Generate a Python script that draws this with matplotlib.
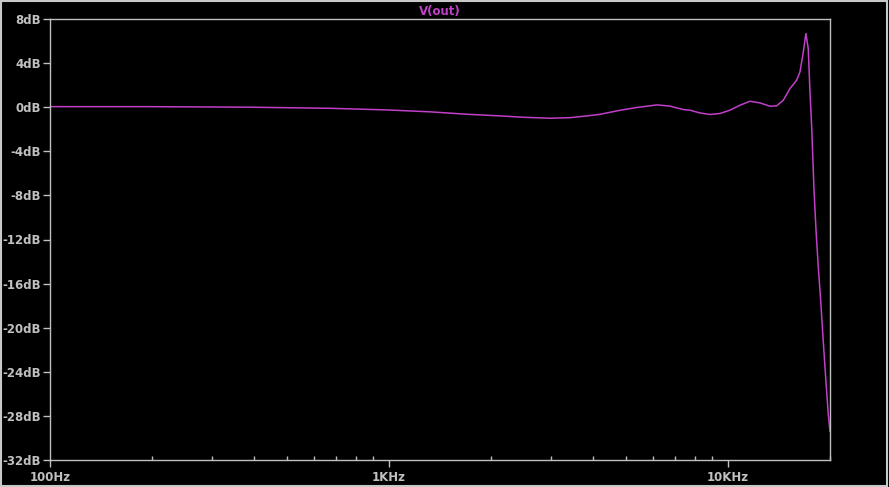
import matplotlib
matplotlib.use("Agg")
import matplotlib.pyplot as plt
from matplotlib.ticker import FixedLocator, LogLocator, NullFormatter
from matplotlib.patches import Rectangle

# frequency response
freq_hz = [100, 197, 389, 670, 993, 1321, 1699, 2125, 2518, 2985, 3420, 3837,
           4190, 4706, 5317, 6176, 6740, 7369, 7726, 8265, 8848, 9471, 10137,
           10850, 11610, 12430, 13300, 13920, 14560, 15240, 15950, 16310,
           16680, 16980, 17250, 17455, 17660, 17940, 18190, 18470, 18770,
           19100, 19450, 19760, 20000]
gain_db = [0.05, 0.05, 0.0, -0.1, -0.25, -0.42, -0.64, -0.79, -0.92, -1.0, -0.95,
           -0.79, -0.65, -0.33, -0.05, 0.21, 0.1, -0.21, -0.27, -0.52, -0.66,
           -0.57, -0.27, 0.18, 0.54, 0.39, 0.09, 0.12, 0.63, 1.69, 2.45, 3.2,
           5.0, 6.68, 5.33, 1.4, -1.8, -7.5, -11.2, -14.5, -17.5, -21.2,
           -24.8, -27.8, -29.4]

y_ticks = [8, 4, 0, -4, -8, -12, -16, -20, -24, -28, -32]
x_ticks = [100, 1000, 10000]
x_labels = ["100Hz", "1KHz", "10KHz"]

grey = "#c0c0c0"
trace = "#c23fc9"

fig = plt.figure(figsize=(8.89, 4.87), dpi=100, facecolor="black")
ax = fig.add_axes([50 / 889, 1 - 460 / 487, 780 / 889, 441 / 487])
ax.set_facecolor("black")

ax.semilogx(freq_hz, gain_db, color=trace, lw=1.1)
ax.set_xlim(100, 20000)
ax.set_ylim(-32, 8)

for s in ax.spines.values():
    s.set_color(grey)
    s.set_linewidth(1)

ax.xaxis.set_major_locator(FixedLocator(x_ticks))
ax.set_xticklabels(x_labels)
ax.xaxis.set_minor_locator(LogLocator(base=10, subs=range(2, 10)))
ax.xaxis.set_minor_formatter(NullFormatter())
ax.set_yticks(y_ticks)
ax.set_yticklabels([f"{v}dB" for v in y_ticks])

ax.tick_params(axis="x", which="major", direction="out", length=5, width=1,
               color=grey, labelcolor=grey, pad=3)
ax.tick_params(axis="x", which="minor", direction="in", length=3, width=1,
               color=grey)
ax.tick_params(axis="y", which="major", direction="out", length=5, width=1,
               color=grey, labelcolor=grey, pad=1.5)
ax.tick_params(axis="y", which="minor", left=False)
for lbl in ax.get_xticklabels() + ax.get_yticklabels():
    lbl.set_fontsize(8.5)
    lbl.set_fontweight("bold")
    lbl.set_family("DejaVu Sans")

ax.set_title("V(out)", color=trace, fontsize=8.5, fontweight="bold", pad=3)

# window frame
fig.add_artist(Rectangle((0.001, 0.002), 0.997, 0.996, transform=fig.transFigure,
                         fill=False, edgecolor="#c8c8c8", lw=1.5))

fig.savefig("out.png", dpi=100, facecolor="black")
